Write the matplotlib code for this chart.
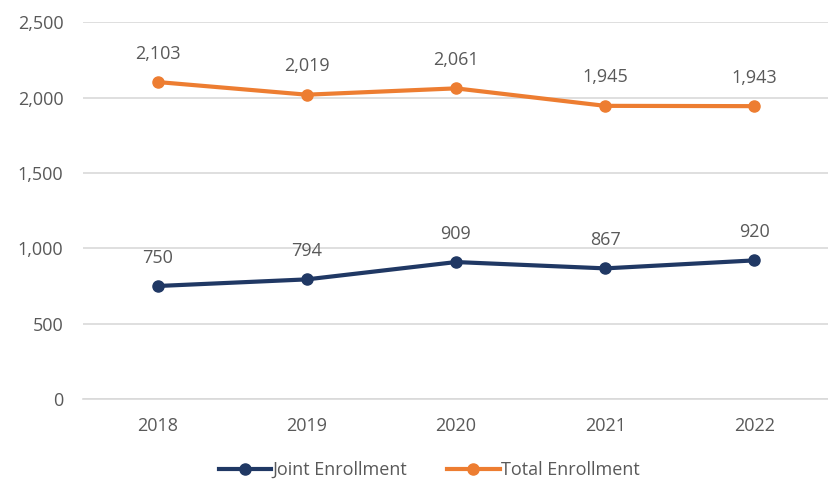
import numpy as np
import matplotlib.pyplot as plt

years = ["2018", "2019", "2020", "2021", "2022"]
joint = [750, 794, 909, 867, 920]
total = [2103, 2019, 2061, 1945, 1943]

plt.rcParams['font.family'] = ['Open Sans', 'DejaVu Sans']
gray = "#595959"
fs = 13

fig = plt.figure(figsize=(8.29, 4.82), dpi=100)
ax = fig.add_axes([0.1, 0.172, 0.9, 0.782])

x = np.arange(len(years))
ax.plot(x, joint, color="#203864", lw=3, marker="o", ms=8, label="Joint Enrollment")
ax.plot(x, total, color="#ED7D31", lw=3, marker="o", ms=8, label="Total Enrollment")

for xi, v in zip(x, joint):
    ax.annotate("{:,}".format(v), (xi, v), xytext=(0, 14), textcoords="offset points",
                ha="center", va="bottom", color=gray, fontsize=fs)
for xi, v in zip(x, total):
    ax.annotate("{:,}".format(v), (xi, v), xytext=(0, 14), textcoords="offset points",
                ha="center", va="bottom", color=gray, fontsize=fs)

ax.set_xlim(-0.5, 4.5)
ax.set_ylim(0, 2500)
ax.set_yticks(range(0, 2501, 500))
ax.set_yticklabels(["{:,}".format(t) for t in range(0, 2501, 500)])
ax.set_xticks(x)
ax.set_xticklabels(years)
ax.grid(axis="y", color="#d9d9d9", lw=1.2)
ax.set_axisbelow(True)
for s in ["top", "right", "left"]:
    ax.spines[s].set_visible(False)
ax.spines["bottom"].set_color("#d9d9d9")
ax.spines["bottom"].set_linewidth(1.2)
ax.tick_params(length=0, colors=gray, labelsize=fs)
ax.tick_params(axis="y", pad=14)
ax.tick_params(axis="x", pad=13)

fig.legend(loc="center", bbox_to_anchor=(0.518, 0.025), ncol=2, frameon=False,
           fontsize=fs, labelcolor=gray, handlelength=2.9, handletextpad=0.1,
           columnspacing=2.2)

fig.savefig("out.png", dpi=100, facecolor="white")
